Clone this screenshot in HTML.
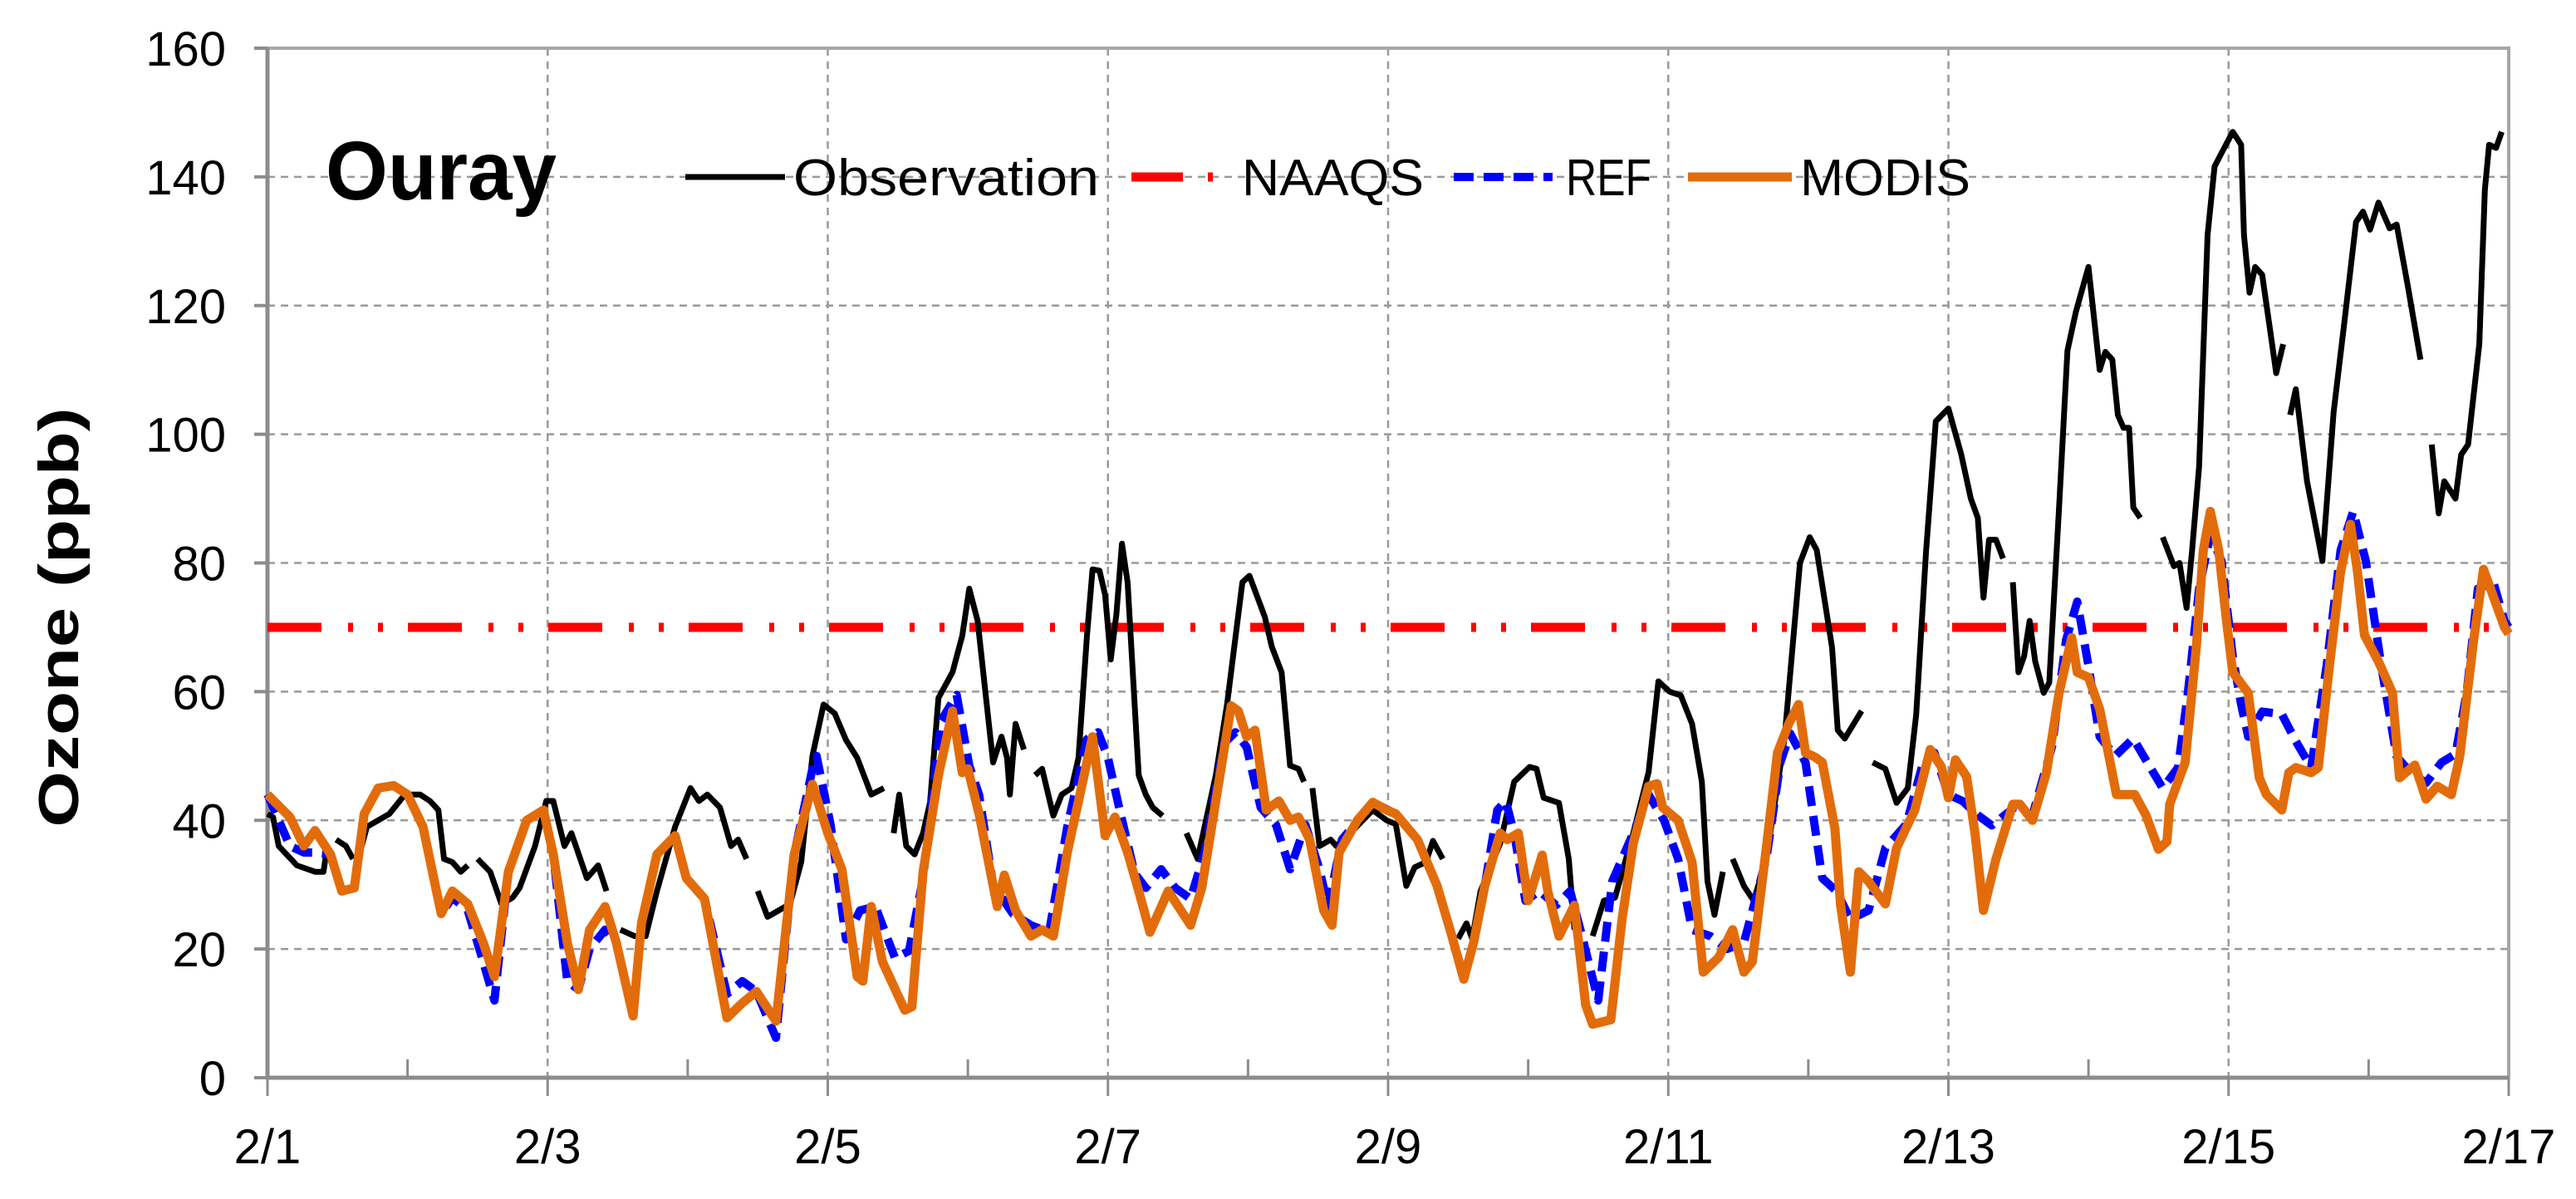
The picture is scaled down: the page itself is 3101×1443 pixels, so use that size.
<!DOCTYPE html>
<html><head><meta charset="utf-8"><style>
html,body{margin:0;padding:0;background:#fff;}
svg{display:block;font-family:"Liberation Sans",sans-serif;}
</style></head><body>
<svg id="chart" width="3101" height="1443" viewBox="0 0 3101 1443" xmlns="http://www.w3.org/2000/svg">
<g id="grid"></g>
<g id="axes"></g>
<g id="series"></g>
<text x="0" y="0" transform="translate(94,743) rotate(-90)" text-anchor="middle" font-size="68" font-weight="bold" textLength="505" lengthAdjust="spacingAndGlyphs">Ozone (ppb)</text>
<g>
<text x="392" y="240" font-size="100" font-weight="bold" textLength="278" lengthAdjust="spacingAndGlyphs">Ouray</text>
<line x1="825" y1="213" x2="945" y2="213" stroke="#000" stroke-width="7"/>
<text x="955" y="235" font-size="62" textLength="368" lengthAdjust="spacingAndGlyphs">Observation</text>
<line x1="1362" y1="213" x2="1471" y2="213" stroke="#f00" stroke-width="11" stroke-dasharray="62 30 6 30 6 30"/>
<text x="1495" y="235" font-size="62" textLength="219" lengthAdjust="spacingAndGlyphs">NAAQS</text>
<line x1="1750" y1="213" x2="1869" y2="213" stroke="#00f" stroke-width="10" stroke-dasharray="24 12"/>
<text x="1885" y="235" font-size="62" textLength="103" lengthAdjust="spacingAndGlyphs">REF</text>
<line x1="2032" y1="213" x2="2157" y2="213" stroke="#e36c0a" stroke-width="11"/>
<text x="2167" y="235" font-size="62" textLength="205" lengthAdjust="spacingAndGlyphs">MODIS</text>
</g>
</svg>
<script>
const yTicks=[0,20,40,60,80,100,120,140,160];
const xTickDays=[0,2,4,6,8,10,12,14,16];
const xTickLabels=["2/1","2/3","2/5","2/7","2/9","2/11","2/13","2/15","2/17"];
const naaqsValue=70;
const obsDay=[0,0.04,0.08,0.21,0.34,0.4,0.42,null,0.49,0.56,0.61,null,0.66,0.71,0.79,0.87,0.98,1.09,1.16,1.22,1.26,1.32,1.38,1.43,null,1.5,1.59,1.67,1.75,1.8,1.91,1.99,2.04,2.12,2.17,2.28,2.36,2.42,null,2.52,2.62,2.7,2.78,2.91,3.02,3.08,3.14,3.23,3.31,3.36,3.42,null,3.5,3.57,3.65,3.73,3.81,3.89,3.97,4.05,4.13,4.21,4.31,4.4,null,4.47,4.51,4.56,4.62,4.68,4.73,4.79,4.89,4.96,5.01,5.07,5.13,5.18,5.24,5.28,5.3,5.34,5.4,null,5.48,5.53,5.61,5.67,5.74,5.79,5.85,5.89,5.94,5.98,6.02,6.06,6.1,6.14,6.22,6.27,6.32,6.39,null,6.56,6.64,6.69,6.77,6.85,6.96,7.01,7.12,7.17,7.24,7.3,7.36,7.4,null,7.46,7.51,7.59,7.63,7.73,7.89,7.99,8.055,8.13,8.19,8.27,8.32,8.39,null,8.5,8.56,8.6,8.66,8.8,8.9,9.01,9.06,9.11,9.22,9.29,9.33,null,9.46,9.54,9.62,9.75,9.86,9.93,10.01,10.09,10.17,10.24,10.28,10.33,10.39,null,10.46,10.54,10.61,10.7,10.83,10.94,11.01,11.06,11.17,11.21,11.26,11.38,null,11.46,11.55,11.63,11.71,11.77,11.84,11.91,12.0,12.09,12.16,12.21,12.25,12.29,12.34,12.39,null,12.46,12.5,12.54,12.58,12.62,12.68,12.72,12.79,12.85,12.91,13.0,13.08,13.12,13.17,13.21,13.25,13.29,13.32,13.37,null,13.53,13.61,13.65,13.7,13.74,13.79,13.85,13.9,13.95,14.03,14.09,14.11,14.15,14.19,14.24,14.3,14.34,14.39,null,14.44,14.48,14.56,14.67,14.75,14.83,14.91,14.96,15.01,15.07,15.15,15.2,15.28,15.37,null,15.45,15.5,15.54,15.62,15.66,15.71,15.79,15.83,15.86,15.91,15.95];
const obsVal=[41,40.5,36,33,32,32,35,null,37,36,34,null,35,39,40,41,44,44,43,41.6,34,33.5,32,33,null,34,32,27,28,29.5,36,43,43,36,38,31,33,29,null,23,22,22,29,39,45,43,44,42,36,37,34,null,29,25,26,27,33.5,50,58,56.6,52.5,49.7,44,45,null,38,44,36,34.7,38,42.8,59,63,68.7,76,71,59,49,53,49.7,44,55,51,null,47,48,40.7,44,45,49.7,68.7,79,78.8,75,65,72,83,77,47,44,42,40.7,null,38,34,39,47,58,77,78,71.6,67,63,48.5,48,46,null,45,36,37,36,38,41.6,40,39.4,29.8,32.7,33.5,36.8,34,null,21.6,24,21.6,29,36.4,46,48.3,48,43.5,42.7,34,23,null,22,27.5,28,38,47.5,61.6,60,59.4,55,46,30.5,25.3,32,null,34,29.8,27.5,34,52.7,80,84,82,66.8,54,52.7,57,null,49,48,42.7,45,56.4,81.6,102,104,97,90,87,74.6,83.6,83.6,80.7,null,77,63,65.5,71,64.7,59.8,61.4,88.6,113,119,126,110,112.8,111.6,103,101,101,88.6,87,null,84,79.5,80,73,82,95,131,141.6,143.7,147,145,131,122,126,124.8,115.7,109.5,114,null,103,107,92.7,80.3,103.4,118,133,134.6,131.8,136,132,132.6,123,111.6,null,98.4,87.7,92.7,90,96.8,98.4,114,138,145,144.5,147];
const refDay=[0,0.16,0.26,0.34,0.45,0.53,0.62,0.69,0.79,0.9,1.0,1.11,1.24,1.32,1.43,1.54,1.62,1.72,1.85,1.97,2.04,2.14,2.22,2.3,2.41,2.49,2.61,2.67,2.78,2.91,2.99,3.12,3.28,3.39,3.49,3.63,3.76,3.89,3.92,4.02,4.13,4.23,4.34,4.48,4.58,4.68,4.81,4.92,5.01,5.08,5.18,5.32,5.45,5.58,5.71,5.85,5.93,6.0,6.08,6.19,6.27,6.38,6.48,6.59,6.69,6.83,6.91,6.99,7.09,7.2,7.3,7.41,7.51,7.57,7.67,7.89,8.055,8.21,8.35,8.45,8.54,8.61,8.69,8.78,8.84,8.9,8.98,9.08,9.2,9.3,9.38,9.5,9.6,9.75,9.86,9.97,10.07,10.17,10.3,10.42,10.54,10.7,10.8,10.87,10.98,11.1,11.2,11.3,11.43,11.55,11.7,11.82,11.9,12.0,12.1,12.21,12.31,12.47,12.6,12.74,12.84,12.92,13.0,13.08,13.19,13.32,13.42,13.53,13.64,13.71,13.79,13.87,13.95,14.03,14.09,14.14,14.24,14.38,14.48,14.59,14.7,14.8,14.89,14.98,15.09,15.2,15.3,15.41,15.52,15.62,15.7,15.78,15.89,15.97,16.0];
const refVal=[44,36,35,35,34.7,29,29.5,41,45,45.4,44,39,25.5,28,26,18,12,32,40,41.6,34.7,15,13.7,20,23,21,9.6,24,34.7,37.6,31,27.8,13,15,13.4,6.2,34.7,48,50,39.3,21.5,26,26.6,18.6,19.7,31,55.5,59.5,48.5,44,30,25.5,23.7,22.6,39,52.6,53.7,49.7,42,31.8,29.5,32.4,29.5,27.8,35,52,53.7,51.4,42,39.3,32.4,39.3,32.4,26.6,37,42.8,41,37,29.8,22.4,15.7,21,29.8,41.6,43,38,27.5,29,26.8,29,22.4,12,30.5,38,44,40,34,23,22,20,21,34,49,53.5,49,31,29,24.6,26,35.7,39.4,49,50.5,44,43,40.8,39.2,42,40.8,51.5,68,74,64,53,50,52.7,49,45,48.2,59.8,76,84.4,80.3,65.5,58,53,56.9,56.5,52.3,48.2,64,82,88,80.3,64,49.9,47.4,45.8,49,50.3,59.8,76,77,71,70];
const modisDay=[0,0.16,0.26,0.34,0.45,0.53,0.62,0.69,0.79,0.9,1.0,1.11,1.24,1.32,1.43,1.54,1.62,1.72,1.85,1.97,2.04,2.14,2.22,2.3,2.41,2.49,2.61,2.67,2.78,2.91,2.99,3.12,3.28,3.39,3.49,3.63,3.76,3.89,4.0,4.1,4.21,4.25,4.31,4.39,4.55,4.6,4.68,4.79,4.89,4.96,5.0,5.08,5.21,5.26,5.34,5.45,5.53,5.61,5.71,5.89,5.98,6.05,6.14,6.22,6.3,6.43,6.59,6.67,6.77,6.88,6.93,6.99,7.05,7.13,7.22,7.3,7.36,7.44,7.54,7.6,7.65,7.78,7.89,7.99,8.055,8.21,8.35,8.45,8.54,8.61,8.69,8.8,8.85,8.93,9.0,9.1,9.14,9.22,9.33,9.41,9.46,9.59,9.67,9.75,9.86,9.92,9.96,10.07,10.17,10.25,10.36,10.46,10.54,10.6,10.7,10.78,10.86,10.93,10.98,11.05,11.1,11.19,11.23,11.3,11.36,11.43,11.55,11.63,11.76,11.87,11.95,12.0,12.05,12.13,12.19,12.25,12.34,12.46,12.51,12.6,12.7,12.79,12.88,12.92,13.0,13.08,13.2,13.33,13.41,13.5,13.56,13.58,13.69,13.77,13.82,13.87,13.93,13.98,14.03,14.14,14.22,14.27,14.38,14.43,14.48,14.59,14.64,14.72,14.8,14.87,14.92,14.97,15.07,15.17,15.22,15.33,15.41,15.49,15.59,15.65,15.75,15.82,15.87,15.97,16.0];
const modisVal=[44,40.5,36,38.4,34.7,29,29.5,41,45,45.4,44,39,25.5,29,27,21,15.7,32,40,41.6,34.7,21,13.7,23,26.6,21,9.6,24,34.7,37.6,31,27.8,9.3,11.6,13.4,8.8,34.7,45.6,38,32.4,15.7,15,26.6,18,10.5,11,32,47,57,47.4,48,41,26.6,31.5,26,22,23,22,35,53,37.6,40.5,35,29,22.6,29,23.7,29.5,43,57.8,57,53,54,41.6,43,40,40.5,37,26,23.7,35,40,42.8,41.6,41,37,29.8,22.4,15.3,21,29.8,38,37,38,27.5,34.6,29,22,26.8,11.3,8.3,9,24.6,36.4,45.3,45.7,42,40,33.5,16.4,18.7,23,16.4,18,35.7,50.5,55,58,50.5,49.8,49,38.7,26.8,16.4,32,30.5,27,35.7,41.6,51,48.3,43.5,49.4,46.8,38,26,34,42.5,42.5,40,47.4,59.8,68.4,63,62.2,57.3,44,44,40.8,35.5,36.7,42.5,49,67,82,88,82,72,63,59.8,46.6,44,41.6,47.4,48.2,47.4,48.2,64,78.7,86,78.7,68.8,64.7,59.8,46.6,48.6,43.3,45.3,44,49.9,68,79,76,70,69];

const NS="http://www.w3.org/2000/svg";
const L=322,R=3020,T=58,B=1297,XMAX=16,YMAX=160;
function xs(d){return L+(R-L)*d/XMAX;}
function ys(v){return B-(B-T)*v/YMAX;}
function mk(tag,attrs,parent){const e=document.createElementNS(NS,tag);for(const k in attrs)e.setAttribute(k,attrs[k]);parent.appendChild(e);return e;}
const grid=document.getElementById('grid'),axes=document.getElementById('axes'),ser=document.getElementById('series');
yTicks.forEach(v=>{
  if(v>0&&v<YMAX){const g=mk('line',{x1:L,x2:R,y1:ys(v),y2:ys(v),stroke:'#9a9a9a','stroke-width':2.5,'stroke-dasharray':'9 7'},grid);
  
  }
  const t=mk('line',{x1:L-16,x2:L,y1:ys(v),y2:ys(v),stroke:'#8c8c8c','stroke-width':4},axes);
  
  
  const lb=mk('text',{x:L-50,y:ys(v)+21,'text-anchor':'end','font-size':58},axes);
  
  
  lb.textContent=v;
});
xTickDays.forEach((d,i)=>{
  if(d>0&&d<XMAX){const g=mk('line',{x1:xs(d),x2:xs(d),y1:T,y2:B,stroke:'#9a9a9a','stroke-width':2.5,'stroke-dasharray':'9 7'},grid);
  
  }
  const lb=mk('text',{x:xs(d),y:1400,'text-anchor':'middle','font-size':58},axes);
  
  
  lb.textContent=xTickLabels[i];
});
for(let d=0;d<=XMAX;d++){
  const even=d%2===0;
  const t=mk('line',{x1:xs(d),x2:xs(d),y1:even?B:B-22,y2:even?B+22:B,stroke:'#8c8c8c','stroke-width':3},axes);
  
  
}
const frame=mk('path',{d:`M${L},${T}H${R}V${B}`,fill:'none',stroke:'#a6a6a6','stroke-width':4},axes);


const ax=mk('path',{d:`M${L},${T}V${B}H${R}`,fill:'none',stroke:'#8c8c8c','stroke-width':5},axes);



function pathD(days,vals){let d='',pen=false;for(let i=0;i<days.length;i++){if(days[i]===null||vals[i]===null){pen=false;continue;}d+=(pen?'L':'M')+xs(days[i]).toFixed(1)+','+ys(vals[i]).toFixed(1);pen=true;}return d;}
const nq=mk('line',{x1:L,x2:R,y1:ys(naaqsValue),y2:ys(naaqsValue),stroke:'#ff0000','stroke-width':11,'stroke-dasharray':'65 32 6 30 6 30'},ser);


const ob=mk('path',{d:pathD(obsDay,obsVal),fill:'none',stroke:'#000','stroke-width':7,'stroke-linejoin':'round'},ser);


const rf=mk('path',{d:pathD(refDay,refVal),fill:'none',stroke:'#0000ff','stroke-width':10,'stroke-dasharray':'24 12','stroke-linejoin':'round'},ser);


const md=mk('path',{d:pathD(modisDay,modisVal),fill:'none',stroke:'#e36c0a','stroke-width':11,'stroke-linejoin':'round'},ser);


</script>
</body></html>
